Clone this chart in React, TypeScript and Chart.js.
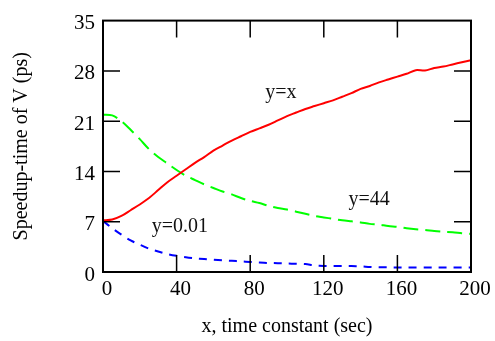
import React, { useEffect, useRef } from "react";
import { Chart, registerables } from "chart.js";

Chart.register(...registerables);

const xValues = [0, 5, 10, 15, 20, 25, 30, 35, 40, 45, 50, 55, 60, 65, 70, 75, 80, 85, 90, 95, 100, 105, 110, 115, 120, 125, 130, 135, 140, 145, 150, 155, 160, 165, 170, 175, 180, 185, 190, 195, 200];

const redValues = [7.2, 7.3, 7.8, 8.6, 9.4, 10.3, 11.4, 12.5, 13.4, 14.3, 15.2, 16.0, 16.9, 17.6, 18.3, 18.9, 19.5, 20.0, 20.5, 21.1, 21.7, 22.2, 22.7, 23.1, 23.5, 23.9, 24.4, 24.9, 25.5, 25.9, 26.4, 26.8, 27.2, 27.6, 28.1, 28.05, 28.4, 28.6, 28.9, 29.2, 29.5];

const greenValues = [21.9, 21.8, 21.0, 19.8, 18.5, 17.1, 16.0, 15.1, 14.2, 13.4, 12.8, 12.2, 11.7, 11.2, 10.8, 10.3, 9.9, 9.6, 9.2, 8.9, 8.7, 8.4, 8.1, 7.8, 7.6, 7.4, 7.2, 7.05, 6.9, 6.7, 6.6, 6.4, 6.3, 6.1, 5.95, 5.85, 5.7, 5.6, 5.55, 5.4, 5.3];

const blueValues = [7.1, 6.1, 5.2, 4.4, 3.8, 3.25, 2.85, 2.5, 2.25, 2.05, 1.9, 1.8, 1.7, 1.62, 1.55, 1.48, 1.4, 1.32, 1.26, 1.22, 1.18, 1.15, 1.1, 0.9, 0.85, 0.83, 0.82, 0.82, 0.8, 0.7, 0.65, 0.65, 0.64, 0.64, 0.64, 0.64, 0.64, 0.64, 0.64, 0.64, 0.64];

const xTicks = [0, 40, 80, 120, 160, 200];
const yTicks = [0, 7, 14, 21, 28, 35];

const curveLabels = [
  { text: "y=x", x: 96.7, y: 25.0 },
  { text: "y=44", x: 144.6, y: 10.0 },
  { text: "y=0.01", x: 41.8, y: 6.35 },
];

const FONT = "'Liberation Serif', 'Times New Roman', serif";

const framePlugin = {
  id: "framePlugin",
  afterDatasetsDraw(chart: any) {
    const { ctx, chartArea, scales } = chart;
    const { left, right, top, bottom } = chartArea;
    const tickLen = 17;
    ctx.save();
    ctx.strokeStyle = "#000";
    ctx.lineWidth = 1.5;
    ctx.beginPath();
    xTicks.forEach((v) => {
      const px = scales.x.getPixelForValue(v);
      if (v === xTicks[0] || v === xTicks[xTicks.length - 1]) return;
      ctx.moveTo(px, bottom);
      ctx.lineTo(px, bottom - tickLen);
      ctx.moveTo(px, top);
      ctx.lineTo(px, top + tickLen);
    });
    yTicks.forEach((v) => {
      const py = scales.y.getPixelForValue(v);
      if (v === yTicks[0] || v === yTicks[yTicks.length - 1]) return;
      ctx.moveTo(left, py);
      ctx.lineTo(left + tickLen, py);
      ctx.moveTo(right, py);
      ctx.lineTo(right - tickLen, py);
    });
    ctx.stroke();
    ctx.lineWidth = 2;
    ctx.strokeRect(left, top, right - left, bottom - top);
    ctx.fillStyle = "#111";
    ctx.font = `20px ${FONT}`;
    ctx.textAlign = "center";
    ctx.textBaseline = "middle";
    curveLabels.forEach((l) => {
      ctx.fillText(l.text, scales.x.getPixelForValue(l.x), scales.y.getPixelForValue(l.y));
    });
    ctx.restore();
  },
};

export default function App() {
  const ref = useRef<HTMLCanvasElement>(null);
  useEffect(() => {
    document.body.style.margin = "0";
    if (!ref.current) return;
    const mk = (vals: number[]) => xValues.map((x, i) => ({ x, y: vals[i] }));
    const chart = new Chart(ref.current, {
      type: "line",
      data: {
        datasets: [
          { label: "y=x", data: mk(redValues), borderColor: "#ff0000", borderWidth: 2, pointRadius: 0, tension: 0.3, fill: false },
          { label: "y=44", data: mk(greenValues), borderColor: "#00ff00", borderWidth: 2, pointRadius: 0, tension: 0.3, borderDash: [15, 7], fill: false },
          { label: "y=0.01", data: mk(blueValues), borderColor: "#0000ff", borderWidth: 2, pointRadius: 0, tension: 0.3, borderDash: [8, 7], fill: false },
        ],
      },
      options: {
        animation: false,
        responsive: false,
        layout: { padding: { top: 14, right: 24, left: 0, bottom: 0 } },
        plugins: { legend: { display: false }, tooltip: { enabled: false } },
        scales: {
          x: {
            type: "linear",
            min: 0,
            max: 200,
            afterFit: (s: any) => { s.height = 69; },
            afterBuildTicks: (s: any) => { s.ticks = xTicks.map((v) => ({ value: v })); },
            grid: { display: false, drawTicks: false },
            border: { display: false },
            ticks: { color: "#000", padding: 5, labelOffset: 4, font: { family: FONT, size: 21 }, maxRotation: 0 },
            title: { display: true, text: "x, time constant (sec)", color: "#000", font: { family: FONT, size: 20 }, padding: { top: 0, bottom: 2 } },
          },
          y: {
            type: "linear",
            min: 0,
            max: 35,
            afterFit: (s: any) => { s.width = 103; },
            afterBuildTicks: (s: any) => { s.ticks = yTicks.map((v) => ({ value: v })); },
            grid: { display: false, drawTicks: false },
            border: { display: false },
            ticks: { color: "#000", padding: 8, labelOffset: 3, font: { family: FONT, size: 21 } },
            title: { display: true, text: "Speedup-time of V (ps)", color: "#000", font: { family: FONT, size: 20 }, padding: { top: 10, bottom: 0 } },
          },
        },
      },
      plugins: [framePlugin],
    });
    return () => chart.destroy();
  }, []);
  return <canvas ref={ref} width={495} height={341} />;
}
